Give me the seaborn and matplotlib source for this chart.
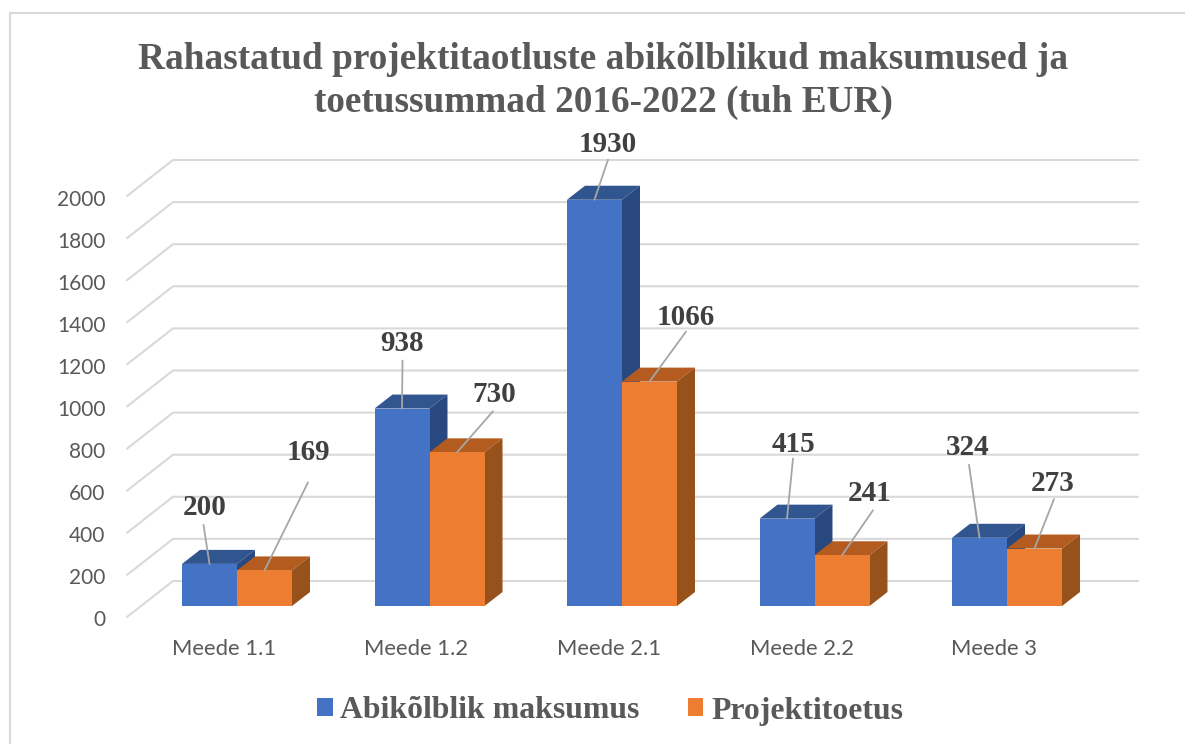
import matplotlib
matplotlib.use("Agg")
import matplotlib.pyplot as plt
from matplotlib.lines import Line2D
from matplotlib.patches import Patch, Polygon
import numpy as np
import pandas as pd
import seaborn as sns

categories = ["Meede 1.1", "Meede 1.2", "Meede 2.1", "Meede 2.2", "Meede 3"]
abikolblik = [200, 938, 1930, 415, 324]
toetus = [169, 730, 1066, 241, 273]
series_names = ["Abikõlblik maksumus", "Projektitoetus"]
y_ticks = np.arange(0, 2001, 200)

title = "Rahastatud projektitaotluste abikõlblikud maksumused ja\ntoetussummad 2016-2022 (tuh EUR)"

SERIF = "Liberation Serif"
GREY = "#595959"
colors = ["#4472C4", "#ED7D31"]
top_colors = ["#30558F", "#B45C1F"]
side_colors = ["#2A4880", "#97511A"]

# pixel scale of the picture, the 3d look is only an offset
W, H = 1185, 744
PX_X = 192.5       # px per category
PX_Y = 0.2105      # px per euro unit
X0, Y0 = 237, 606  # px of first category centre / value 0 on bar front
DEPTH_X = 18 / PX_X
DEPTH_Y = 14 / PX_Y

# label offset and leader start, px from the top centre of the bar
label_off = [[(-5, 56), (0.5, 65.5), (13.5, 55), (6, 74.6), (-11.5, 90)],
             [(43.5, 118), (37, 58), (36.5, 64.6), (28, 62), (18.5, 65.5)]]
leader_off = [[(-6, 39), (0.5, 48), (13.5, 40), (6, 60), (-10.5, 73)],
              [(43.5, 88), (36, 41), (36.5, 50), (31, 45), (19.5, 49.5)]]

df = pd.DataFrame({
    "Meede": categories * 2,
    "Summa": abikolblik + toetus,
    "Seeria": [series_names[0]] * 5 + [series_names[1]] * 5,
})

sns.set_theme(style="white")
fig = plt.figure(figsize=(W / 100, H / 100), dpi=100)
left, right, top, bottom = 115, 1150, 150, 625
ax = fig.add_axes([left / W, 1 - bottom / H, (right - left) / W, (bottom - top) / H])

sns.barplot(data=df, x="Meede", y="Summa", hue="Seeria", palette=colors, saturation=1,
            width=110 / PX_X, gap=0, legend=False, linewidth=0, ax=ax)
ax.set_xlim((left - X0) / PX_X, (right - X0) / PX_X)
ax.set_ylim((Y0 - bottom) / PX_Y, (Y0 - top) / PX_Y)
ax.set_xlabel("")
ax.set_ylabel("")
sns.despine(ax=ax, left=True, bottom=True)

# grid: diagonal on the side wall and then along the back wall
front_y = -11 / PX_Y
back_y = 25 / PX_Y
x_front = (127 - X0) / PX_X
x_back = (173 - X0) / PX_X
x_end = (1138 - X0) / PX_X
for v in y_ticks:
    ax.plot([x_front, x_back, x_end], [v + front_y, v + back_y, v + back_y],
            color="#D9D9D9", lw=1.5, zorder=0.5, solid_joinstyle="miter")

ax.set_yticks(y_ticks - 12.5 / PX_Y, [str(v) for v in y_ticks])
ax.set_xticks(np.arange(len(categories)) - 13 / PX_X, categories)
ax.tick_params(axis="y", length=0, pad=7, labelsize=15, labelcolor=GREY)
ax.tick_params(axis="x", length=0, pad=10, labelsize=15.8, labelcolor=GREY)
for lab in ax.get_xticklabels() + ax.get_yticklabels():
    lab.set_fontfamily("Lato")

# top and side faces from the bars seaborn drew
for s, container in enumerate(ax.containers):
    for i, bar in enumerate(container):
        x0, x1 = bar.get_x(), bar.get_x() + bar.get_width()
        h = bar.get_height()
        ax.add_patch(Polygon([(x0, h), (x1, h), (x1 + DEPTH_X, h + DEPTH_Y), (x0 + DEPTH_X, h + DEPTH_Y)],
                             fc=top_colors[s], ec="none", zorder=0.7 + s * 0.1))
        ax.add_patch(Polygon([(x1, 0), (x1, h), (x1 + DEPTH_X, h + DEPTH_Y), (x1 + DEPTH_X, DEPTH_Y)],
                             fc=side_colors[s], ec="none", zorder=0.7 + s * 0.1))
        xc = (x0 + x1) / 2
        ax.annotate(str(int(h)), xy=(xc, h), xytext=label_off[s][i], textcoords="offset pixels",
                    ha="center", va="center", family=SERIF, fontweight="bold", fontsize=21,
                    color="#404040", zorder=5)
        ax.annotate("", xy=(xc, h), xytext=leader_off[s][i], textcoords="offset pixels",
                    arrowprops=dict(arrowstyle="-", color="#A6A6A6", lw=1.3, shrinkA=0, shrinkB=0),
                    zorder=4)

fig.text(603.5 / W, 1 - 81 / H, title, ha="center", va="center", family=SERIF, fontweight="bold",
         fontsize=26.8, color=GREY, linespacing=1.3)

handles = [Patch(fc=c, ec="none") for c in colors]
fig.legend(handles, series_names, loc="center", bbox_to_anchor=(610 / W, 1 - 711 / H), ncol=2,
           frameon=False, handlelength=0.5, handleheight=0.5, handletextpad=0.25, columnspacing=1.5,
           prop=dict(family=SERIF, weight="bold", size=22.9), labelcolor=GREY)

# chart frame, only left and top fall inside the crop
fig.add_artist(Line2D([10 / W, 10 / W, 1], [0, 1 - 13 / H, 1 - 13 / H], transform=fig.transFigure,
                      color="#D9D9D9", lw=1.5, solid_joinstyle="miter"))

fig.savefig("out.png", dpi=100)
